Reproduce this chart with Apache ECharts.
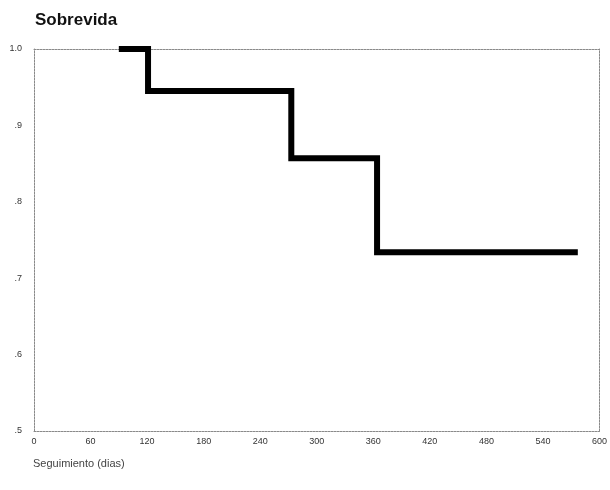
<!DOCTYPE html>
<html>
<head>
<meta charset="utf-8">
<script src="https://cdn.jsdelivr.net/npm/echarts@6/dist/echarts.min.js"></script>
<style>
html, body { margin: 0; padding: 0; background: #fff; }
#chart { width: 610px; height: 490px; }
</style>
</head>
<body>
<div id="chart"></div>
<script>
// curva de sobrevida (Kaplan-Meier)
var dias = [90, 121, 273, 364, 577];
var sobrevida = [1.0, 0.945, 0.857, 0.734, 0.734];
var xTicks = [0, 60, 120, 180, 240, 300, 360, 420, 480, 540, 600];
var yTicks = [0.5, 0.6, 0.7, 0.8, 0.9, 1.0];

var myChart = echarts.init(document.getElementById('chart'));
var fuente = 'Liberation Sans, Arial, sans-serif';
var borde = { show: true, onZero: false, lineStyle: { color: '#8a8a8a', width: 1, type: [2, 1] } };

var option = {
    backgroundColor: '#fff',
    animation: false,
    title: [{
        text: 'Sobrevida',
        left: 30, top: 7,
        textStyle: { fontFamily: fuente, fontSize: 17, fontWeight: 'bold', color: '#111' }
    }, {
        text: 'Seguimiento (dias)',
        left: 28, top: 453,
        textStyle: { fontFamily: fuente, fontSize: 11, fontWeight: 'normal', color: '#444' }
    }],
    grid: { left: 34, right: 8, top: 49, bottom: 59 },
    xAxis: [{
        type: 'value', min: xTicks[0], max: xTicks[xTicks.length - 1], interval: 60,
        axisLine: borde, axisTick: { show: false }, splitLine: { show: false },
        axisLabel: { fontFamily: fuente, fontSize: 9, color: '#333', margin: 6, showMaxLabel: true }
    }, {
        type: 'value', position: 'top', min: 0, max: 600,
        axisLine: borde, axisTick: { show: false }, splitLine: { show: false }, axisLabel: { show: false }
    }],
    yAxis: [{
        type: 'value', min: yTicks[0], max: yTicks[yTicks.length - 1], interval: 0.1,
        axisLine: borde, axisTick: { show: false }, splitLine: { show: false },
        axisLabel: {
            fontFamily: fuente, fontSize: 9, color: '#333', margin: 12,
            formatter: function (v) {
                return v >= 1 ? '1.0' : '.' + Math.round(v * 10);
            }
        }
    }, {
        type: 'value', position: 'right', min: 0.5, max: 1,
        axisLine: borde, axisTick: { show: false }, splitLine: { show: false }, axisLabel: { show: false }
    }],
    series: [{
        type: 'line',
        step: 'end',
        data: dias.map(function (d, i) { return [d, sobrevida[i]]; }),
        showSymbol: false,
        lineStyle: { color: '#000', width: 6, join: 'miter', cap: 'butt' }
    }]
};
myChart.setOption(option);
window.addEventListener('resize', function () { myChart.resize(); });
</script>
</body>
</html>
